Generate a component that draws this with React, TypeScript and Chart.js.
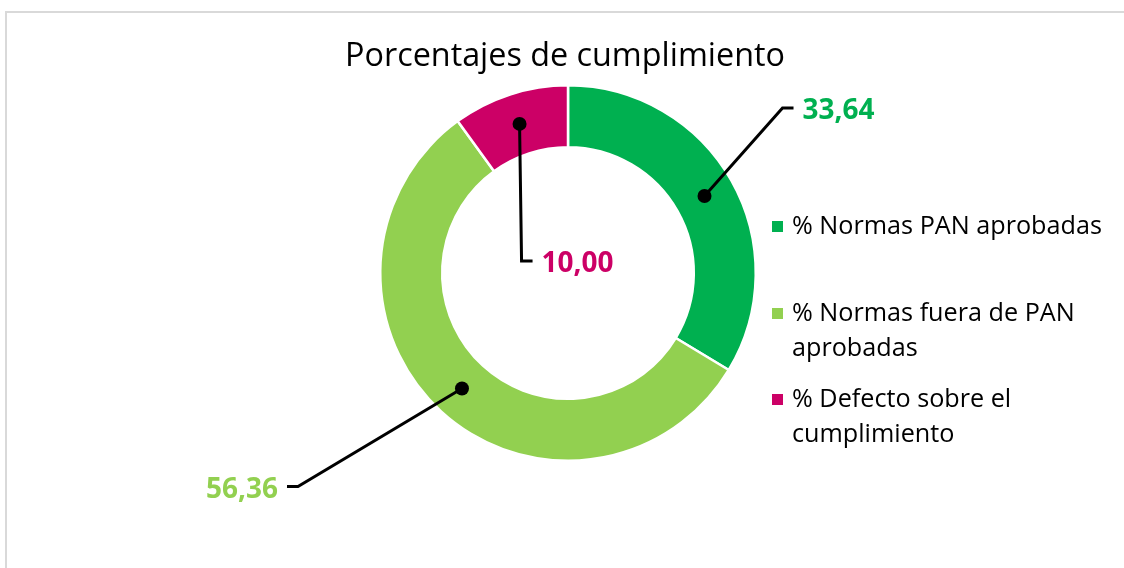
import React, { useEffect, useRef } from "react";
import { Chart, registerables } from "chart.js";

Chart.register(...registerables);

// ---- data ----
const categories = [
  "% Normas PAN aprobadas",
  "% Normas fuera de PAN aprobadas",
  "% Defecto sobre el cumplimiento",
];
const values = [33.64, 56.36, 10.0];
const valueLabels = ["33,64", "56,36", "10,00"];
const legendLines = [
  ["% Normas PAN aprobadas"],
  ["% Normas fuera de PAN", "aprobadas"],
  ["% Defecto sobre el", "cumplimiento"],
];
const titleText = "Porcentajes de cumplimiento";

// ---- styles / layout ----
const colors = ["#00B050", "#92D050", "#CC0066"];
const FONT = "'Open Sans', sans-serif";
// leader line geometry relative to the dot
const leaders = [
  { ex: 78, ey: -88, len: 11, side: 1 },
  { ex: -164, ey: 98, len: 11, side: -1 },
  { ex: 2, ey: 137, len: 11, side: 1 },
];
const legendBaselines = [234, 321, 407];
const legendLineHeight = 35;

function fitSize(ctx: CanvasRenderingContext2D, text: string, weight: string, target: number) {
  ctx.font = `${weight} 100px ${FONT}`;
  const w = ctx.measureText(text).width;
  return (100 * target) / w;
}

const overlayPlugin = {
  id: "overlay",
  afterDraw(chart: any) {
    const ctx: CanvasRenderingContext2D = chart.ctx;
    ctx.save();
    // outer border of chart box (only left and top edges are visible)
    ctx.strokeStyle = "#d9d9d9";
    ctx.lineWidth = 2;
    ctx.beginPath();
    ctx.moveTo(6, 600);
    ctx.lineTo(6, 12);
    ctx.lineTo(1130, 12);
    ctx.stroke();

    // title
    const ts = fitSize(ctx, titleText, "normal", 440);
    ctx.font = `normal ${ts}px ${FONT}`;
    ctx.fillStyle = "#000";
    ctx.textAlign = "center";
    ctx.textBaseline = "alphabetic";
    ctx.fillText(titleText, 565, 66);

    // legend
    const ls = fitSize(ctx, legendLines[0][0], "normal", 310);
    ctx.font = `normal ${ls}px ${FONT}`;
    ctx.textAlign = "left";
    legendLines.forEach((lines, i) => {
      const b = legendBaselines[i];
      ctx.fillStyle = colors[i];
      ctx.fillRect(772, b - 13, 11, 11);
      ctx.fillStyle = "#000";
      lines.forEach((ln, j) => ctx.fillText(ln, 792, b + j * legendLineHeight));
    });

    // data labels with leader lines
    const meta = chart.getDatasetMeta(0);
    const vs = fitSize(ctx, valueLabels[0], "bold", 72);
    meta.data.forEach((arc: any, i: number) => {
      const mid = (arc.startAngle + arc.endAngle) / 2;
      const r = (arc.innerRadius + arc.outerRadius) / 2;
      const dx = arc.x + Math.cos(mid) * r;
      const dy = arc.y + Math.sin(mid) * r;
      const L = leaders[i];
      const ex = dx + L.ex;
      const ey = dy + L.ey;
      const endX = ex + L.side * L.len;
      ctx.strokeStyle = "#000";
      ctx.lineWidth = 3;
      ctx.lineJoin = "miter";
      ctx.beginPath();
      ctx.moveTo(dx, dy);
      ctx.lineTo(ex, ey);
      ctx.lineTo(endX, ey);
      ctx.stroke();
      ctx.fillStyle = "#000";
      ctx.beginPath();
      ctx.arc(dx, dy, 7, 0, Math.PI * 2);
      ctx.fill();

      ctx.font = `bold ${vs}px ${FONT}`;
      ctx.fillStyle = colors[i];
      const asc = ctx.measureText(valueLabels[i]).actualBoundingBoxAscent;
      ctx.textAlign = L.side > 0 ? "left" : "right";
      ctx.fillText(valueLabels[i], endX + L.side * 9, ey + 1 + asc / 2);
    });
    ctx.restore();
  },
};

export default function App() {
  const ref = useRef<HTMLCanvasElement>(null);
  useEffect(() => {
    document.body.style.margin = "0";
    document.body.style.overflow = "hidden";
    const chart = new Chart(ref.current!, {
      type: "doughnut",
      data: {
        labels: categories,
        datasets: [
          {
            data: values,
            backgroundColor: colors,
            borderColor: "#ffffff",
            borderWidth: 2.5,
          },
        ],
      },
      options: {
        responsive: false,
        animation: false,
        cutout: "67%",
        layout: { padding: { top: 84, bottom: 106, left: 379, right: 367 } },
        plugins: {
          legend: { display: false },
          tooltip: { enabled: false },
          title: { display: false },
        },
      },
      plugins: [overlayPlugin],
    });
    return () => chart.destroy();
  }, []);
  return (
    <div style={{ position: "absolute", left: 0, top: 0, width: 1124, height: 568, background: "#fff", overflow: "hidden" }}>
      <canvas ref={ref} width={1124} height={568} style={{ display: "block" }} />
    </div>
  );
}
